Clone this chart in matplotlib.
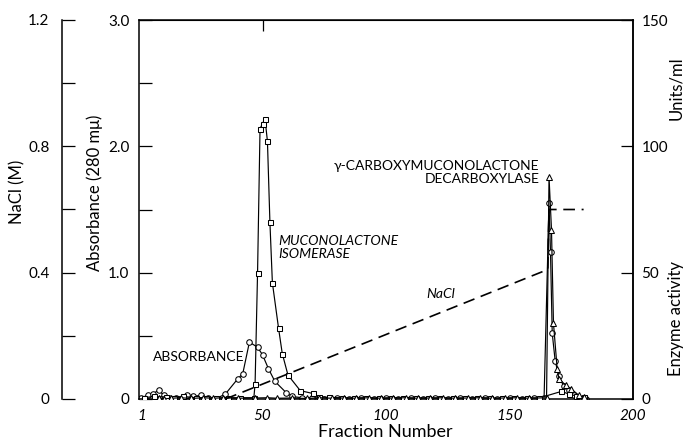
import matplotlib
matplotlib.use("Agg")
import matplotlib.pyplot as plt

plt.rcParams['font.family'] = ['Lato', 'DejaVu Sans']

# ---- data ----
abs_frac = [1, 3.5, 5.5, 8, 10, 12, 15, 19.5, 22, 25, 28, 31, 35, 40, 42, 44.7, 48, 50, 52.4,
            55, 59.6, 62, 66, 70, 75, 80, 85, 90, 95, 100, 105, 110, 115, 120, 125, 130, 135,
            140, 145, 150, 155, 160, 164, 166, 166.6, 167.3, 168.5, 170, 172, 174, 176, 181]
abs_val = [0.01, 0.03, 0.04, 0.07, 0.03, 0.01, 0.01, 0.03, 0.02, 0.03, 0.01, 0.0, 0.04, 0.16,
           0.20, 0.45, 0.41, 0.35, 0.24, 0.14, 0.05, 0.02, 0.01, 0.01, 0.0, 0.005, 0.0, 0.005,
           0.0, 0.005, 0.0, 0.005, 0.0, 0.005, 0.0, 0.005, 0.0, 0.005, 0.0, 0.005, 0.0, 0.005,
           0.01, 1.55, 1.16, 0.52, 0.30, 0.18, 0.10, 0.07, 0.03, 0.0]

iso_frac = [2, 6, 11, 14, 18, 23, 27, 31, 36, 41, 46.5, 47, 48, 49, 50, 51, 52, 53, 54, 56.5,
            58, 60.3, 65.3, 70.3, 73, 77, 82, 87, 92, 97, 102, 107, 112, 117, 122, 127, 132,
            137, 142, 147, 152, 157, 162, 171, 174, 177, 180]
iso_val = [0.5, 1.0, 0.8, 0.5, 1.0, 0.5, 0.5, 0.3, 0.5, 0.5, 0.5, 6, 50, 107, 109, 111, 102,
           70, 46, 28, 18, 9.5, 3.3, 2.2, 0.9, 0.6, 0.5, 0.4, 0.5, 0.3, 0.5, 0.4, 0.4, 0.5,
           0.3, 0.4, 0.4, 0.5, 0.4, 0.3, 0.4, 0.5, 0.4, 3.0, 2.0, 1.2, 0.7]

dec_frac = [8, 10, 13, 17, 21, 26, 30, 34, 40, 47, 52, 56, 62, 68, 73, 78, 83, 88, 93, 98,
            103, 108, 113, 118, 123, 128, 133, 138, 143, 148, 153, 158, 165, 166, 167, 167.8,
            169.3, 170, 172.7, 175, 178, 180]
dec_val = [0.5, 0, 0.3, 0.5, 0.2, 0.5, 0.3, 0.5, 0.3, 0.4, 0.5, 0.3, 0.4, 0.2, 0.5, 0.3, 0.4,
           0.3, 0.5, 0.3, 0.4, 0.5, 0.3, 0.4, 0.5, 0.3, 0.4, 0.5, 0.3, 0.4, 0.5, 0.3, 0.5, 88,
           67, 30, 12, 8, 5.5, 4, 1.5, 0.7]

nacl_frac = [35, 165.5, 166, 180]
nacl_val = [0.0, 0.41, 0.6, 0.6]

x_ticks = [1, 50, 100, 150, 200]
abs_ticks = [0, 1.0, 2.0, 3.0]
abs_tick_labels = ['0', '1.0', '2.0', '3.0']
nacl_ticks = [0, 0.4, 0.8, 1.2]
nacl_tick_labels = ['0', '0.4', '0.8', '1.2']
units_ticks = [0, 50, 100, 150]

# ---- figure ----
fig = plt.figure(figsize=(6.85, 4.41), dpi=100)
L, R, B, T = 139/685, 633/685, 1-399/441, 1-20/441
ax = fig.add_axes([L, B, R-L, T-B])
ax.set_xlim(0, 200)
ax.set_ylim(0, 3.0)

lw = 0.85
mk = dict(markerfacecolor='white', markeredgecolor='black', markeredgewidth=0.75, color='black', lw=lw)

ax2 = ax.twinx()
ax2.set_ylim(0, 150)
ax3 = ax.twinx()
ax3.set_ylim(0, 1.2)

# data
ax3.plot(nacl_frac, nacl_val, color='black', lw=1.2, dashes=(7, 4))
ax.plot(abs_frac, abs_val, marker='o', ms=4.0, **mk)
ax2.plot(iso_frac, iso_val, marker='s', ms=3.6, **mk)
ax2.plot(dec_frac, dec_val, marker='^', ms=4.5, **mk)

# main axis styling
for s in ax.spines.values():
    s.set_linewidth(1.1)
ax.set_xticks(x_ticks)
ax.set_xticklabels([str(v) for v in x_ticks], fontsize=11, style='italic')
ax.tick_params(axis='x', direction='in', length=0, pad=7)
ax.set_yticks(abs_ticks)
ax.set_yticklabels(abs_tick_labels, fontsize=11)
ax.set_yticks([0.5, 1.5, 2.5], minor=True)
ax.tick_params(axis='y', which='both', direction='in', length=9, width=0.9, pad=7)
top = ax.secondary_xaxis('top')
top.set_xticks([50], labels=[''])
top.tick_params(direction='in', length=8, width=0.9)

# right axis
ax2.set_yticks(units_ticks)
ax2.set_yticklabels([str(v) for v in units_ticks], fontsize=11)
ax2.tick_params(axis='y', direction='in', length=9, width=0.9, pad=6)
for s in ['top', 'bottom', 'left']:
    ax2.spines[s].set_visible(False)
ax2.spines['right'].set_linewidth(1.1)

# NaCl axis
for s in ['top', 'bottom', 'right']:
    ax3.spines[s].set_visible(False)
ax3.spines['left'].set_visible(True)
ax3.spines['left'].set_position(('axes', (62-139)/(633-139)))
ax3.spines['left'].set_linewidth(1.1)
ax3.yaxis.set_ticks_position('left')
ax3.yaxis.set_label_position('left')
ax3.set_yticks(nacl_ticks)
ax3.set_yticklabels(nacl_tick_labels, fontsize=11)
ax3.set_yticks([0.2, 0.6, 1.0], minor=True)
ax3.tick_params(axis='y', which='both', direction='in', length=9, width=0.9, pad=9)

# annotations
ax.text(5.5, 0.33, 'ABSORBANCE', fontsize=10, ha='left', va='center')
ax.text(56.5, 1.2, 'MUCONOLACTONE\nISOMERASE', fontsize=10, style='italic',
        ha='left', va='center', linespacing=1.1)
ax.text(162, 1.79, 'γ-CARBOXYMUCONOLACTONE\nDECARBOXYLASE', fontsize=10,
        ha='right', va='center', multialignment='right', linespacing=1.1)
ax.text(122, 0.83, 'NaCl', fontsize=10, style='italic', ha='center', va='center')

# axis labels
fig.text(385/685, 1-432/441, 'Fraction Number', fontsize=13, ha='center', va='center')
fig.text(17/685, 1-192/441, 'NaCl (M)', fontsize=12, rotation=90, ha='center', va='center')
fig.text(95/685, 1-193/441, 'Absorbance (280 mμ)', fontsize=12, rotation=90, ha='center', va='center')
fig.text(676/685, 1-318/441, 'Enzyme activity', fontsize=12, rotation=90, ha='center', va='center')
fig.text(676/685, 1-88/441, 'Units/ml', fontsize=12, rotation=90, ha='center', va='center')

fig.savefig('out.png', dpi=100)
